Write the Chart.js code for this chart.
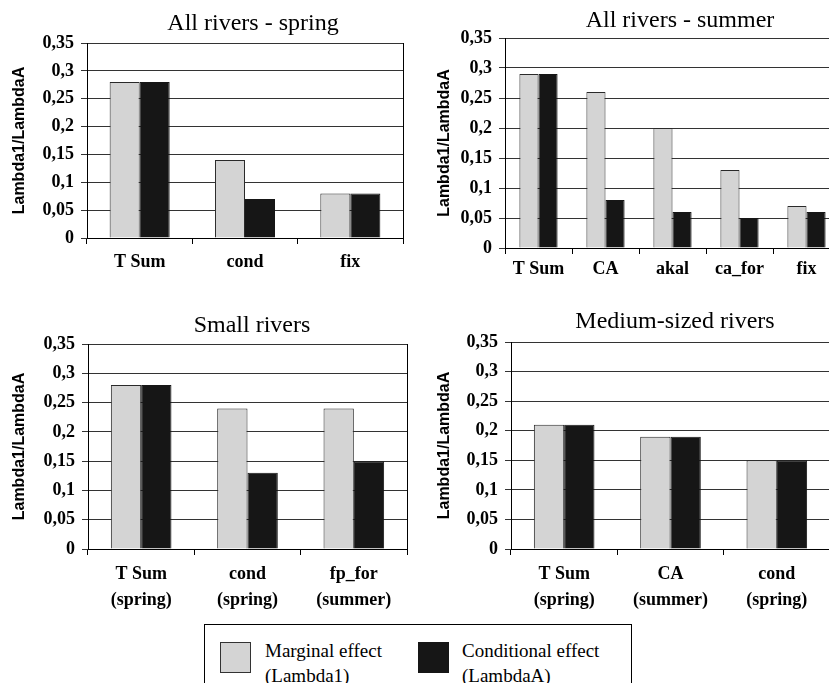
<!DOCTYPE html>
<html><head><meta charset="utf-8">
<script src="https://cdn.jsdelivr.net/npm/chart.js@4.4.1/dist/chart.umd.min.js"></script>
<style>
html,body{margin:0;padding:0;background:#fff;}
body{width:829px;height:683px;overflow:hidden;position:relative;}
canvas{position:absolute;}
.title{position:absolute;font-family:'Liberation Serif','Times New Roman',serif;font-size:24px;line-height:24px;white-space:nowrap;transform:translateX(-50%);color:#000;}
.sw{position:absolute;width:31px;height:31px;box-sizing:border-box;border:1px solid #333;}
.lt{position:absolute;font-family:'Liberation Serif','Times New Roman',serif;font-size:19px;line-height:25px;white-space:nowrap;color:#000;}
</style></head><body>
<canvas id="c1" width="415" height="280" style="left:0;top:0"></canvas>
<canvas id="c2" width="440" height="280" style="left:415px;top:0"></canvas>
<canvas id="c3" width="415" height="340" style="left:0;top:280px"></canvas>
<canvas id="c4" width="420" height="340" style="left:415px;top:280px"></canvas>
<div class="title" style="left:253px;top:10px">All rivers - spring</div>
<div class="title" style="left:680px;top:7px">All rivers - summer</div>
<div class="title" style="left:252px;top:312px">Small rivers</div>
<div class="title" style="left:675px;top:308px">Medium-sized rivers</div>
<div style="position:absolute;left:204px;top:624px;width:428px;height:80px;border:1px solid #000;box-sizing:border-box;"></div>
<div class="sw" style="left:220px;top:642px;background:#d4d4d4;"></div>
<div class="lt" style="left:265px;top:638px">Marginal effect<br>(Lambda1)</div>
<div class="sw" style="left:418px;top:642px;background:#161616;border-color:#161616;"></div>
<div class="lt" style="left:462px;top:638px">Conditional effect<br>(LambdaA)</div>
<script>
const yTickLabels = ['0','0,05','0,1','0,15','0,2','0,25','0,3','0,35'];
const seriesNames = ['Marginal effect (Lambda1)','Conditional effect (LambdaA)'];

const springCategories = ['T Sum','cond','fix'];
const springMarginal = [0.28,0.14,0.08];
const springConditional = [0.28,0.07,0.08];

const summerCategories = ['T Sum','CA','akal','ca_for','fix'];
const summerMarginal = [0.29,0.26,0.20,0.13,0.07];
const summerConditional = [0.29,0.08,0.06,0.05,0.06];

const smallCategories = [['T Sum','(spring)'],['cond','(spring)'],['fp_for','(summer)']];
const smallMarginal = [0.28,0.24,0.24];
const smallConditional = [0.28,0.13,0.15];

const mediumCategories = [['T Sum','(spring)'],['CA','(summer)'],['cond','(spring)']];
const mediumMarginal = [0.21,0.19,0.15];
const mediumConditional = [0.21,0.19,0.15];

const SERIF = "'Liberation Serif','Times New Roman',serif";
const SANS = "'Liberation Sans',Arial,sans-serif";
Chart.defaults.color = '#000';

function makeChart(id, cats, marg, cond, g) {
  new Chart(document.getElementById(id), {
    type: 'bar',
    data: {
      labels: cats,
      datasets: [
        {label: seriesNames[0], data: marg, backgroundColor: '#d4d4d4', borderColor: '#2a2a2a', borderWidth: 1, barPercentage: 1, categoryPercentage: 0.57},
        {label: seriesNames[1], data: cond, backgroundColor: '#161616', borderColor: '#161616', borderWidth: 1, barPercentage: 1, categoryPercentage: 0.57}
      ]
    },
    options: {
      responsive: false, animation: false, devicePixelRatio: 1,
      layout: {padding: {top: g.top, right: g.right, left: 0, bottom: 0}},
      plugins: {legend: {display: false}, tooltip: {enabled: false}, title: {display: false}},
      scales: {
        x: {
          grid: {display: true, drawOnChartArea: false, tickLength: 6, color: '#000', offset: true},
          border: {display: true, color: '#000', width: 1},
          ticks: {font: {family: SERIF, weight: 'bold', size: 18, lineHeight: 1.44}, color: '#000', padding: g.xpad, maxRotation: 0, minRotation: 0, autoSkip: false},
          afterFit: s => { s.height = g.xh; }
        },
        y: {
          min: 0, max: 0.35,
          ticks: {stepSize: 0.05, callback: v => yTickLabels[Math.round(v / 0.05)], font: {family: SERIF, weight: 'bold', size: 18}, color: '#000', padding: 7},
          grid: {color: '#333', tickLength: 6},
          border: {display: true, color: '#000', width: 1},
          title: {display: true, text: 'Lambda1/LambdaA', font: {family: SANS, weight: 'bold', size: 16, lineHeight: 1.2}, color: '#000', padding: {top: g.tpad, bottom: 0}},
          afterFit: s => { s.width = g.yw; }
        },
        y2: {
          type: 'linear', position: 'right',
          ticks: {display: false}, grid: {display: false, drawTicks: false},
          border: {display: true, color: '#000', width: 1},
          afterFit: s => { s.width = 0; }
        }
      }
    }
  });
}

makeChart('c1', springCategories, springMarginal, springConditional, {top: 43, right: 12, yw: 87, xh: 42, xpad: 5, tpad: 10});
makeChart('c2', summerCategories, summerMarginal, summerConditional, {top: 38, right: 15, yw: 90, xh: 32, xpad: 2, tpad: 20});
makeChart('c3', smallCategories, smallMarginal, smallConditional, {top: 64, right: 8, yw: 88, xh: 71, xpad: 6, tpad: 10});
makeChart('c4', mediumCategories, mediumMarginal, mediumConditional, {top: 62, right: 5, yw: 96, xh: 71, xpad: 6, tpad: 20});
</script>
</body></html>
